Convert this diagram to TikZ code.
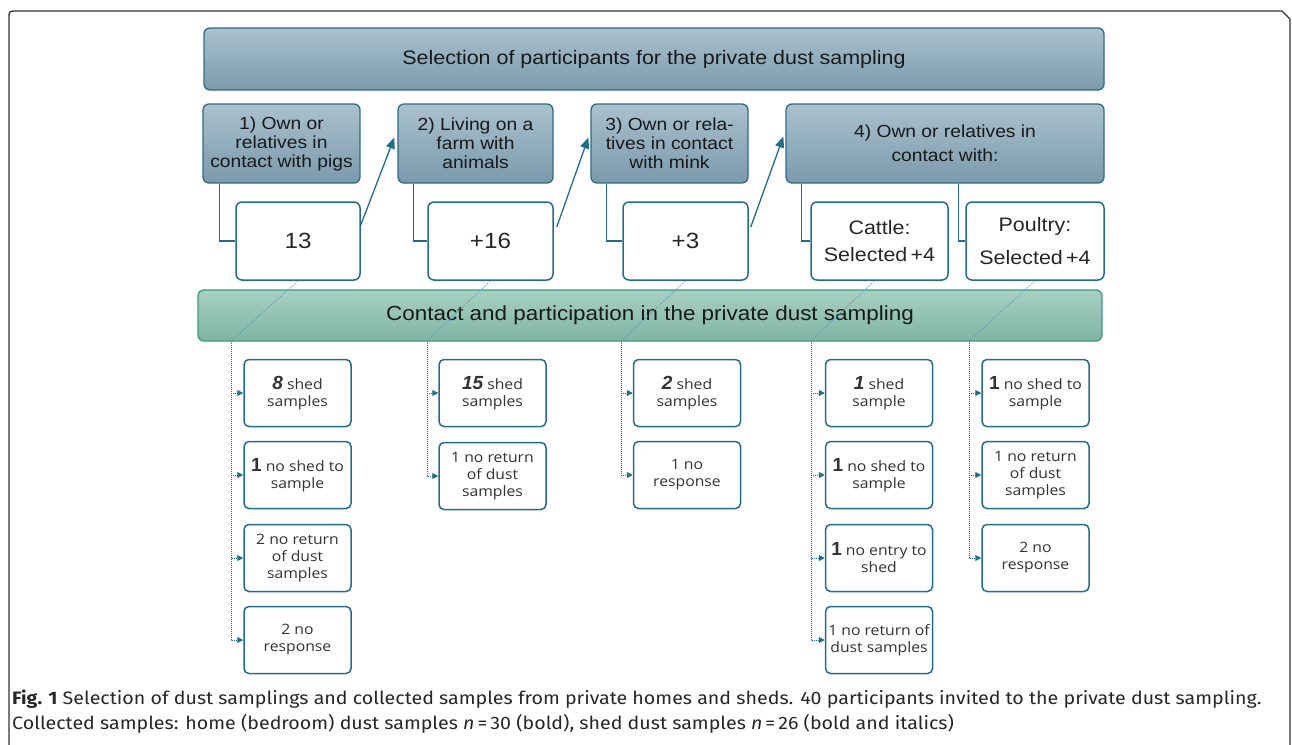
\documentclass[tikz,border=0pt]{standalone}
\usepackage{fontspec}
\setmainfont[FakeStretch=1.1]{Liberation Sans}
\newfontfamily\numfont{Liberation Sans}
\newfontfamily\childfont[FakeStretch=1.1]{Open Sans}
\newfontfamily\capfont[FakeStretch=1.09]{Fira Sans}
\usetikzlibrary{arrows.meta,calc}
\definecolor{lnk}{HTML}{1F6F8B}
\definecolor{hdrtop}{HTML}{AAC1CE}
\definecolor{hdrbot}{HTML}{7A9AAB}
\definecolor{hdrdraw}{HTML}{2E6C84}
\definecolor{grtop}{HTML}{A8D0C3}
\definecolor{grbot}{HTML}{7FB4A3}
\definecolor{grdraw}{HTML}{3B9A82}
\definecolor{diagc}{HTML}{5A9FB8}
\newcommand\numb[1]{{\numfont\fontsize{19}{17}\selectfont\bfseries #1}}
\newcommand\numbi[1]{{\numfont\fontsize{19}{17}\selectfont\bfseries\itshape #1}}
\begin{document}
\begin{tikzpicture}[x=1pt,y=-1pt,
  banner/.style={draw=hdrdraw, line width=1.3pt, rounded corners=6pt, top color=hdrtop, bottom color=hdrbot, inner sep=0pt, align=center, text=black!90},
  hdr/.style={banner, minimum height=79pt, font=\fontsize{17.5}{19}\selectfont},
  wbox/.style={draw=lnk, line width=1.5pt, rounded corners=6pt, fill=white, inner sep=0pt, align=center, minimum height=78pt, text=black!85},
  gbanner/.style={draw=grdraw, line width=1.3pt, rounded corners=6pt, top color=grtop, bottom color=grbot, inner sep=0pt, align=center, text=black!90},
  cbox/.style={draw=lnk, line width=1.5pt, rounded corners=5pt, fill=white, inner sep=0pt, align=center, minimum width=107pt, minimum height=67pt, text=black!80, font=\childfont\fontsize{14.3}{17}\selectfont},
  elbow/.style={draw=lnk, line width=1.3pt},
  step arrow/.style={draw=lnk, line width=1.3pt, -{Triangle[length=11pt,width=9pt]}},
  diag/.style={draw=diagc, line width=0.6pt, dash pattern=on 2pt off 1.2pt},
  bus/.style={draw=lnk, line width=1pt, densely dotted, -{Triangle[length=6pt,width=6pt]}},
  framec/.style={draw=black!80, line width=1.3pt}
]
\useasboundingbox (0,0) rectangle (1292,744);
% outer frame
\draw[framec] (9,760) -- (9,19) .. controls (9,11) .. (17,11) -- (1282,11) -- (1290,19) -- (1290,760);

% top banner
\node[banner, minimum width=900pt, minimum height=62pt, font=\fontsize{19.5}{24}\selectfont] (top) at (654,59) {Selection of participants for the private dust sampling};

% headers
\node[hdr, minimum width=157pt] (h1) at (281.5,143.5) {1) Own or\\relatives in\\contact with pigs};
\node[hdr, minimum width=155pt] (h2) at (475.5,143.5) {2) Living on a\\farm with\\animals};
\node[hdr, minimum width=157pt] (h3) at (669.5,143.5) {3) Own or rela-\\tives in contact\\with mink};
\node[hdr, minimum width=318pt, font=\fontsize{17.5}{24}\selectfont] (h4) at (945,143.5) {4) Own or relatives in\\contact with:};

% white boxes
\node[wbox, minimum width=124pt, font=\fontsize{22}{24}\selectfont] (n1) at (298,241) {13};
\node[wbox, minimum width=125pt, font=\fontsize{22}{24}\selectfont] (n2) at (490.5,241) {+16};
\node[wbox, minimum width=125pt, font=\fontsize{22}{24}\selectfont] (n3) at (685.5,241) {+3};
\node[wbox, minimum width=137pt, font=\fontsize{19.5}{27}\selectfont] (n4) at (879.5,241) {Cattle:\\Selected\,+4};
\node[wbox, minimum width=138pt, font=\fontsize{19.5}{33}\selectfont] (n5) at (1035,241) {Poultry:\\Selected\,+4};

% header to box elbows
\draw[elbow] ($(h1.south west)+(17,0)$) |- (n1.west);
\draw[elbow] ($(h2.south west)+(16,0)$) |- (n2.west);
\draw[elbow] ($(h3.south west)+(16,0)$) |- (n3.west);
\draw[elbow] ($(h4.south west)+(16,0)$) |- (n4.west);
\draw[elbow] ($(h4.south west)+(173,0)$) |- (n5.west);

% step arrows
\draw[step arrow] ($(n1.east)+(0,-16)$) -- ($(h2.west)+(-3,-6)$);
\draw[step arrow] ($(n2.east)+(3,-14)$) -- ($(h3.west)+(-2,-6)$);
\draw[step arrow] ($(n3.east)+(2,-14)$) -- ($(h4.west)+(-2,-7)$);

% green banner
\node[gbanner, minimum width=904pt, minimum height=51pt, font=\fontsize{20.4}{24}\selectfont] (mid) at (650,315.5) {Contact and participation in the private dust sampling};

% bus points
\coordinate (b1) at (231,341);
\coordinate (b2) at (427,341);
\coordinate (b3) at (621,341);
\coordinate (b4) at (811,341);
\coordinate (b5) at (969,341);

% diagonals
\draw[diag] (n1.south) -- (b1);
\draw[diag] (n2.south) -- (b2);
\draw[diag] (n3.south) -- (b3);
\draw[diag] ($(n4.south)+(-5,0)$) -- (b4);
\draw[diag] (n5.south) -- (b5);

% child boxes column 1
\node[cbox] (c11) at (297.5,393) {\numbi{8} shed\\samples};
\node[cbox] (c12) at (297.5,475) {\numb{1} no shed to\\sample};
\node[cbox] (c13) at (297.5,558) {2 no return\\of dust\\samples};
\node[cbox] (c14) at (297.5,640) {2 no\\response};
% column 2
\node[cbox] (c21) at (492.5,393) {\numbi{15} shed\\samples};
\node[cbox] (c22) at (492.5,476) {1 no return\\of dust\\samples};
% column 3
\node[cbox] (c31) at (687,393) {\numbi{2} shed\\samples};
\node[cbox] (c32) at (687,475) {1 no\\response};
% column 4
\node[cbox] (c41) at (879,393) {\numbi{1} shed\\sample};
\node[cbox] (c42) at (879,475) {\numb{1} no shed to\\sample};
\node[cbox] (c43) at (879,558) {\numb{1} no entry to\\shed};
\node[cbox] (c44) at (879,640) {1 no return of\\dust samples};
% column 5
\node[cbox] (c51) at (1035.5,393) {\numb{1} no shed to\\sample};
\node[cbox] (c52) at (1035.5,475) {1 no return\\of dust\\samples};
\node[cbox] (c53) at (1035.5,558) {2 no\\response};

% bus connectors
\foreach \c in {c11,c12,c13,c14} \draw[bus] (b1) |- (\c.west);
\foreach \c in {c21,c22} \draw[bus] (b2) |- (\c.west);
\foreach \c in {c31,c32} \draw[bus] (b3) |- (\c.west);
\foreach \c in {c41,c42,c43,c44} \draw[bus] (b4) |- (\c.west);
\foreach \c in {c51,c52,c53} \draw[bus] (b5) |- (\c.west);

% caption
\node[anchor=base west, inner sep=0pt, font=\capfont\fontsize{18}{20}\selectfont, text=black!85] (cap1) at (12,704) {\textbf{Fig. 1} Selection of dust samplings and collected samples from private homes and sheds. 40 participants invited to the private dust sampling.};
\node[anchor=base west, inner sep=0pt, font=\capfont\fontsize{18}{20}\selectfont, text=black!85] (cap2) at (12,729) {Collected samples: home (bedroom) dust samples \textit{n}\,=\,30 (bold), shed dust samples \textit{n}\,=\,26 (bold and italics)};
\end{tikzpicture}
\end{document}
